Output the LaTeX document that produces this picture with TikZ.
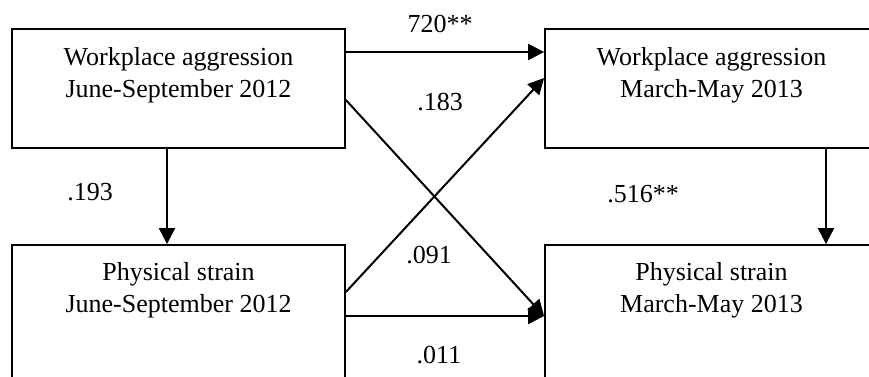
\documentclass[tikz,border=0pt]{standalone}
\usepackage{fontspec}
\setmainfont{Liberation Serif}
\usetikzlibrary{arrows.meta}

\begin{document}
\begin{tikzpicture}[x=0.5pt,y=-0.5pt,font=\fontsize{13}{16}\selectfont]
\tikzstyle{box}=[draw,line width=0.9pt,minimum width=166.5pt,align=center,inner sep=0pt]
\tikzstyle{link}=[-{Triangle[length=8pt,width=8pt]},line width=1pt]
\useasboundingbox (0,0) rectangle (869,376);
\path (178.5,88.5) node[box,minimum height=59.5pt] (wa1) {Workplace aggression\\June-September 2012\\~};
\path (711.5,88.5) node[box,minimum height=59.5pt] (wa2) {Workplace aggression\\March-May 2013\\~};
\path (178.5,319) node[box,minimum height=74pt] (ps1) {Physical strain\\June-September 2012\\~\\~};
\path (711.5,319) node[box,minimum height=74pt] (ps2) {Physical strain\\March-May 2013\\~\\~};
\draw[link] ([yshift=18.25pt]wa1.east) -- ([yshift=18.25pt]wa2.west);
\draw[link] ([yshift=-5.75pt]wa1.east) -- ([yshift=1.5pt]ps2.west);
\draw[link] ([yshift=13.5pt]ps1.east) -- ([yshift=5.25pt]wa2.west);
\draw[link] ([yshift=1.5pt]ps1.east) -- ([yshift=1.5pt]ps2.west);
\draw[link] ([xshift=-5.75pt]wa1.south) -- ([xshift=-5.75pt]ps1.north);
\draw[link] ([xshift=57.25pt]wa2.south) -- ([xshift=57.25pt]ps2.north);
\foreach \n/\x/\y/\t in {ww/440/32/720**, wp/440/110/.183, w1p1/90/200/.193,
  w2p2/643/202/.516**, pw/429/263/.091, pp/439/363/.011}{
\path (\x,\y) node[anchor=base] (\n) {\t};
}
\end{tikzpicture}
\end{document}
